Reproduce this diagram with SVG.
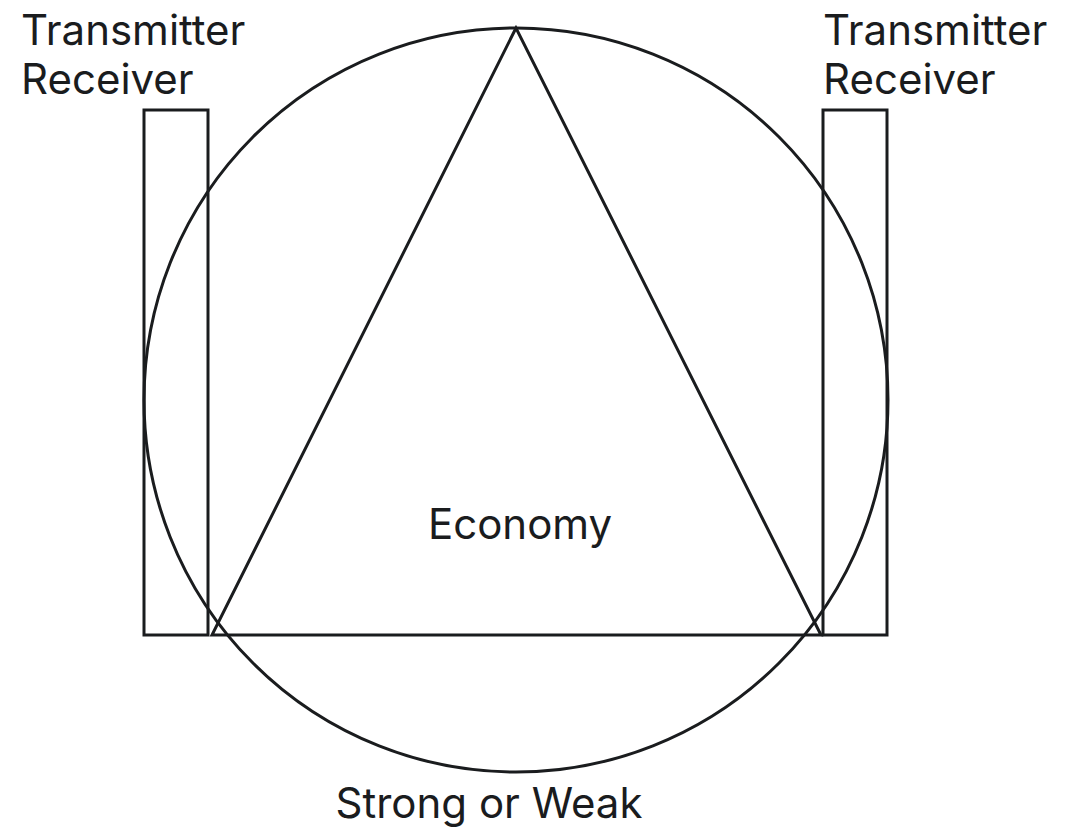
<svg xmlns="http://www.w3.org/2000/svg" width="1066" height="828" viewBox="0 0 1066 828">
<style>
.s{fill:none;stroke:#1a1c1e;stroke-width:3}
.t{font-family:Inter,"Noto Sans",sans-serif;font-size:42px;fill:#1a1c1e}
</style>
<rect width="1066" height="828" fill="#fff"/>
<g id="shapes">
<g id="circle"><circle class="s" cx="516" cy="400" r="372"/></g>
<g id="triangle"><polygon class="s" points="516,28 212,635 821,635" stroke-linejoin="miter"/></g>
<g id="left-box"><rect class="s" x="144" y="110" width="64" height="525"/></g>
<g id="right-box"><rect class="s" x="823" y="110" width="64" height="525"/></g>
</g>
<g id="labels">
<text class="t" x="21" y="45">Transmitter</text>
<text class="t" x="21" y="94">Receiver</text>
<text class="t" x="823" y="45">Transmitter</text>
<text class="t" x="823" y="94">Receiver</text>
<text class="t" x="520" y="539" text-anchor="middle">Economy</text>
<text class="t" x="489" y="818" text-anchor="middle">Strong or Weak</text>
</g>
</svg>
